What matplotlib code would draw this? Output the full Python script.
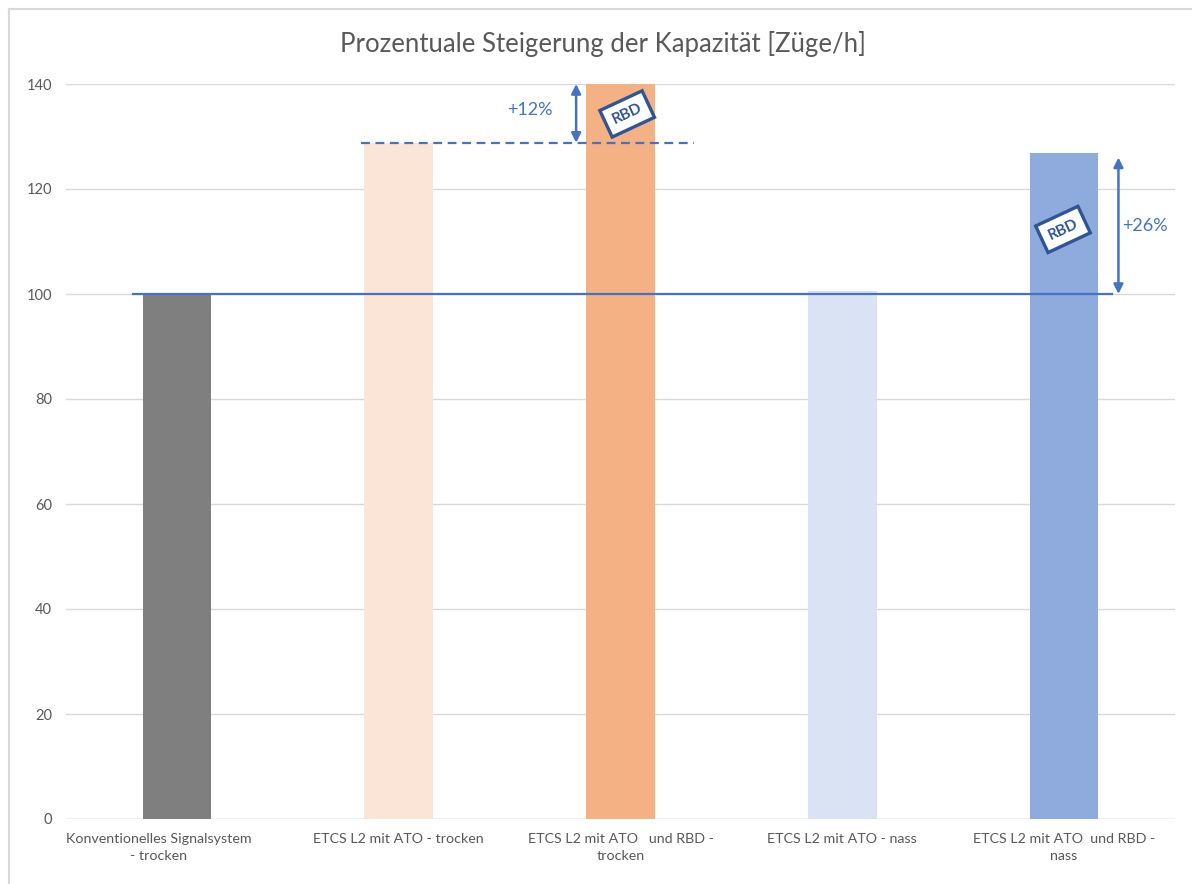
import matplotlib
matplotlib.use("Agg")
import matplotlib.pyplot as plt
from matplotlib.lines import Line2D
from matplotlib.transforms import ScaledTranslation

# Capacity data [trains/h], conventional dry operation = 100
categories = [
    "Konventionelles Signalsystem\n- trocken",
    "ETCS L2 mit ATO - trocken",
    "ETCS L2 mit ATO   und RBD -\ntrocken",
    "ETCS L2 mit ATO - nass",
    "ETCS L2 mit ATO  und RBD -\nnass",
]
values = [100.0, 128.8, 144.3, 100.6, 126.9]
bar_colors = ["#7F7F7F", "#FBE5D6", "#F4B183", "#DAE3F3", "#8FAADC"]
y_ticks = [0, 20, 40, 60, 80, 100, 120, 140]
baseline = 100
gain_dry = "+12%"
gain_wet = "+26%"
gain_wet_target = 126.0

BLUE = "#4472C4"
DARK_BLUE = "#2F5597"
GREY_TXT = "#595959"

plt.rcParams["font.family"] = ["Lato", "DejaVu Sans"]

fig = plt.figure(figsize=(11.92, 8.84), dpi=100)
ax = fig.add_axes([66 / 1192, 1 - 819 / 884, (1175 - 66) / 1192, (819 - 84) / 884])

x = list(range(len(categories)))
ax.bar(x, values, width=0.31, color=bar_colors, zorder=2)

ax.set_xlim(-0.5, len(categories) - 0.5)
ax.set_ylim(0, 140)
ax.set_yticks(y_ticks)
ax.set_xticks(x)
ax.set_xticklabels(categories, fontsize=10.3, color=GREY_TXT, linespacing=1.5)
ax.tick_params(axis="y", labelsize=10.5, colors=GREY_TXT, length=0, pad=10)
ax.tick_params(axis="x", length=0, pad=10)
ax.grid(axis="y", color="#D9D9D9", linewidth=1, zorder=0)
for s in ax.spines.values():
    s.set_visible(False)
ax.axhline(0, color="#D9D9D9", linewidth=1, zorder=1)

# keep the first (wide) category label inside the plot area
first = ax.get_xticklabels()[0]
first.set_transform(first.get_transform() + ScaledTranslation(-0.18, 0, fig.dpi_scale_trans))

# Baseline of conventional signalling
ax.plot([-0.2, 4.215], [baseline, baseline], color=BLUE, linewidth=1.6, zorder=4)
# Level of ETCS L2 with ATO (dry)
ax.plot([0.83, 2.33], [values[1], values[1]], color=BLUE, linewidth=1.6,
        linestyle=(0, (4, 2.5)), zorder=4)

arrow = dict(arrowstyle="<|-|>", color=BLUE, lw=1.8, mutation_scale=14, shrinkA=0, shrinkB=0)
ax.annotate("", xy=(1.80, 140), xytext=(1.80, values[1]), arrowprops=arrow,
            annotation_clip=False, zorder=5)
ax.text(1.59, 135.0, gain_dry, color=BLUE, fontsize=13, ha="center", va="center", zorder=5)

ax.annotate("", xy=(4.245, gain_wet_target), xytext=(4.245, baseline), arrowprops=arrow,
            zorder=5)
ax.text(4.26, 113.0, gain_wet, color=BLUE, fontsize=13, ha="left", va="center", zorder=5)

# RBD badges
badge = dict(boxstyle="square,pad=0.5", facecolor="white", edgecolor=DARK_BLUE, linewidth=2.4)
for bx, by in [(2.03, 134.3), (3.995, 112.3)]:
    ax.text(bx, by, "RBD", rotation=25, color=DARK_BLUE, fontsize=11, fontweight="bold",
            ha="center", va="center", bbox=badge, zorder=6)

fig.text(603 / 1192, 1 - 44 / 884, "Prozentuale Steigerung der Kapazität [Züge/h]",
         ha="center", va="center", fontsize=18.5, color=GREY_TXT)

# Chart frame
fig.add_artist(Line2D([9 / 1192, 9 / 1192], [0, 1 - 9 / 884], transform=fig.transFigure,
                      color="#D9D9D9", linewidth=1.5))
fig.add_artist(Line2D([9 / 1192, 1], [1 - 9 / 884, 1 - 9 / 884], transform=fig.transFigure,
                      color="#D9D9D9", linewidth=1.5))

fig.savefig("out.png", dpi=100, facecolor="white")
